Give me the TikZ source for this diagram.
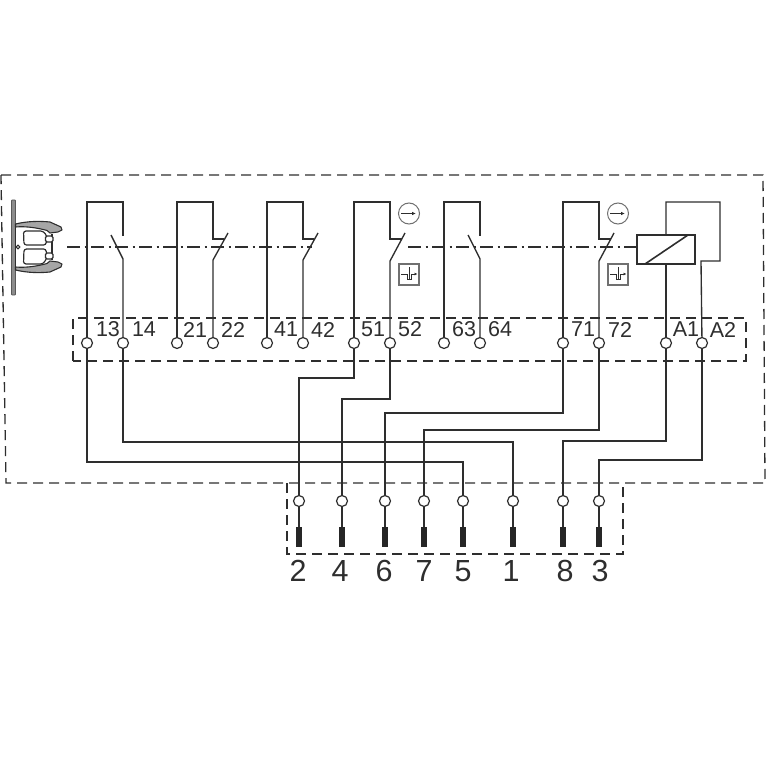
\documentclass[tikz,border=0pt]{standalone}
\usepackage{fontspec}
\usetikzlibrary{arrows.meta}
\setmainfont{Liberation Sans}
\definecolor{ink}{HTML}{2E2E2E}
\definecolor{boxgrey}{HTML}{707070}
\tikzset{
  wire/.style={draw=ink,line width=1.35pt,line join=miter},
  thinw/.style={draw=ink,line width=1.1pt},
  dashbox/.style={draw=ink,line width=1.3pt,dash pattern=on 10pt off 6pt},
  axis/.style={draw=ink,line width=1.2pt,dash pattern=on 13pt off 4.5pt on 2pt off 4.5pt},
  term/.style={circle,draw=ink,fill=white,line width=1.2pt,minimum size=11pt,inner sep=0pt},
  plug/.style={rectangle,fill=black!85,minimum width=6pt,minimum height=20pt,inner sep=0pt},
  tlabel/.style={text=ink,font=\fontsize{21.5}{23}\selectfont,inner sep=0pt},
  pinlabel/.style={text=ink,font=\fontsize{30.5}{32}\selectfont,inner sep=0pt},
  dial/.style={circle,draw=boxgrey,line width=1pt,minimum size=21pt,inner sep=0pt},
  delaybox/.style={rectangle,draw=boxgrey,line width=1.2pt,minimum width=20pt,minimum height=21pt,inner sep=0pt},
  coil/.style={rectangle,draw=ink,line width=1.7pt,minimum width=58pt,minimum height=29pt,inner sep=0pt},
}
\begin{document}
\begin{tikzpicture}[x=1pt,y=-1pt]
\useasboundingbox (0,0) rectangle (767,767);
% dashed enclosures
\draw[dashbox] (1,175) -- (763,175) -- (765,483) -- (6,483) -- cycle;
\draw[dashbox] (73,361) -- (73,318) -- (746,318) -- (746,361) -- cycle;
\draw[dashbox] (287,483) -- (287,554) -- (623,554) -- (623,483);
% coil
\node[coil] (coil) at (666,249.5) {};
% mechanical axis
\coordinate (axL) at (67,247);
\coordinate (axM) at (312,247);
\coordinate (axN) at (408,247);
\draw[axis] (axL) -- (axM);
\draw[axis] (axN) -- (coil.west |- axN);
% upper terminals
\foreach \n/\x in {13/87,14/123,21/177,22/213,41/267,42/303,51/354,52/390,63/444,64/480,71/563,72/599,A1/666,A2/702}
  \coordinate (p\n) at (\x,343);
\foreach \n/\x in {2/299,4/342,6/385,7/424,5/463,1/513,8/563,3/599}{
  \coordinate (q\n) at (\x,501);
  \node[plug] (bar\n) at (\x,537) {};
}
% contact wiring, top
\draw[wire] (p13) -- (87,202) -- (123,202) -- (123,236);
\draw[wire] (p14) -- (123,259) -- (111,235);
\draw[wire] (p21) -- (177,202) -- (213,202) -- (213,239) -- (224,239);
\draw[wire] (p22) -- (213,260) -- (228,233);
\draw[wire] (p41) -- (267,202) -- (303,202) -- (303,239) -- (314,239);
\draw[wire] (p42) -- (303,260) -- (318,233);
\draw[wire] (p51) -- (354,202) -- (390,202) -- (390,239) -- (402,239);
\draw[wire] (p52) -- (390,261) -- (405,233);
\draw[wire] (p63) -- (444,202) -- (480,202) -- (480,236);
\draw[wire] (p64) -- (480,259) -- (468,235);
\draw[wire] (p71) -- (563,202) -- (599,202) -- (599,239) -- (611,239);
\draw[wire] (p72) -- (599,261) -- (614,233);
\draw[wire] (coil.north) -- (666,202) -- (720,202) -- (720,261) -- (701,261) -- (pA2);
\draw[wire] (coil.south) -- (pA1);
\draw[draw=ink,line width=1.6pt] (645,264) -- (688,235);
% lower wiring
\draw[wire] (p13) -- (87,462) -| (q5);
\draw[wire] (p14) -- (123,442) -| (q1);
\draw[wire] (p51) -- (354,378) -| (q2);
\draw[wire] (p52) -- (390,399) -| (q4);
\draw[wire] (p71) -- (563,413) -| (q6);
\draw[wire] (p72) -- (599,430) -| (q7);
\draw[wire] (pA1) -- (666,441) -| (q8);
\draw[wire] (pA2) -- (702,460) -| (q3);
\foreach \n in {2,4,6,7,5,1,8,3}
  \draw[thinw] (q\n) -- (bar\n);
% terminal circles on top of wires
\foreach \n in {13,14,21,22,41,42,51,52,63,64,71,72,A1,A2}
  \node[term] (t\n) at (p\n) {};
\foreach \n in {2,4,6,7,5,1,8,3}
  \node[term] (b\n) at (q\n) {};
% terminal labels
\foreach \n/\x in {13/108,14/144,21/195,22/233,41/286,42/323,51/373,52/410,63/464,64/500,71/583,72/620,A1/686,A2/723}
  \node[tlabel] (l\n) at (\x,329.5) {\n};
\foreach \n/\x in {2/298,4/340,6/384,7/424,5/463,1/511,8/565,3/600}
  \node[pinlabel] (m\n) at (\x,571) {\n};
% time dials
\foreach \k/\x in {a/409,b/618}{
  \node[dial] (dial\k) at (\x,213.5) {};
  \draw[ink,line width=1pt,-{Latex[length=4pt,width=3.5pt]}] (dial\k.west) ++(3,0) -- ++(15,0);
}
% delay boxes
\foreach \k/\x in {a/399,b/608}{
  \node[delaybox] (delay\k) at (\x+10,274.5) {};
  \begin{scope}[shift={(\x,0)}]
    \draw[ink,line width=1pt] (2,274) -- (8,274) -- (8,279.5) -- (12,279.5) -- (12,274);
    \draw[ink,line width=1pt] (10,267) -- (10,279.5);
    \draw[ink,line width=1pt,-{Latex[length=3pt,width=3pt]}] (12,274) -- (18.5,274);
  \end{scope}
}
% actuator
\draw[draw=ink!80,fill=black!45,line width=.8pt,rounded corners=.8pt] (11.5,200) rectangle (15.5,295);
\draw[ink,fill=black!35,line width=1.1pt,line join=round] (15.5,224) .. controls (28,221) and (40,221) .. (50,222) -- (61,227) -- (62,230) -- (58,232) -- (50,233) -- (47,230.5) .. controls (38,228) and (26,226) .. (15.5,227) -- cycle;
\draw[ink,fill=black!35,line width=1.1pt,line join=round] (15.5,270) .. controls (28,273) and (40,273) .. (50,272) -- (61,267) -- (62,264) -- (58,262) -- (50,261) -- (47,263.5) .. controls (38,266) and (26,268) .. (15.5,267) -- cycle;
\draw[ink,line width=1.2pt] (15.5,224) -- (15.5,270);
\draw[ink,line width=1.1pt,fill=white] (18,247) circle (1.8);
\draw[ink,line width=1.2pt,rounded corners=2.5pt] (23.5,231) -- (43,231) -- (47,236) -- (46,245) -- (24,245) -- cycle;
\draw[ink,line width=1.2pt,rounded corners=2.5pt] (24,249) -- (46,249) -- (47,258) -- (43,264) -- (23.5,264) -- cycle;
\draw[ink,line width=1.2pt] (52,234) -- (52,260);
\draw[ink,line width=1.4pt,fill=white,rounded corners=1.5pt] (45.5,236) rectangle (53,242);
\draw[ink,line width=1.4pt,fill=white,rounded corners=1.5pt] (45.5,253) rectangle (53,259);
\end{tikzpicture}
\end{document}
